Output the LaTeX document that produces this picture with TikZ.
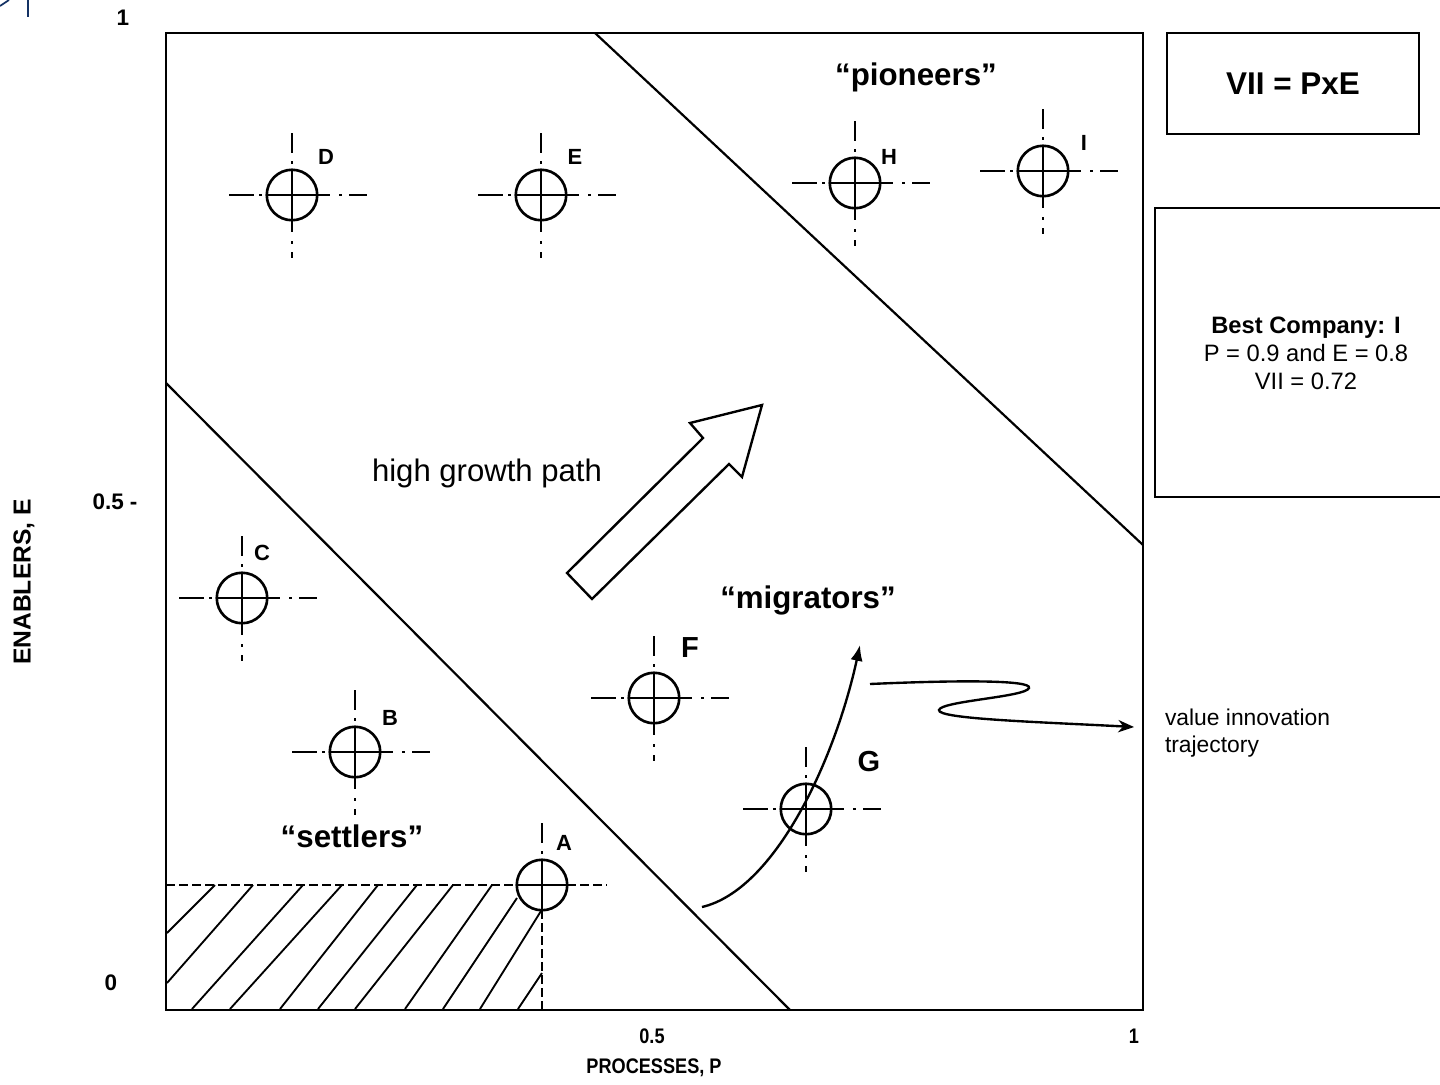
\documentclass[tikz,border=0pt]{standalone}
\usepackage{fontspec}
\setmainfont{Liberation Sans}
\usetikzlibrary{arrows.meta}
\newcommand{\fsz}[2]{\fontsize{#1pt}{#2pt}\selectfont}
\newcommand{\compcore}[3]{%
  \node[markcirc] (#1) at (#2,#3) {};
  \draw[crossln] (#1.west) -- (#1.east) (#1.north) -- (#1.south);}
\newcommand{\compticks}[2]{%
  \begin{scope}[shift={(#1,#2)}]
  \draw[tickln] (-63,0) -- (-38,0) (-33,0) -- (-30,0) (25,0) -- (38,0) (47,0) -- (50,0) (57,0) -- (75,0)
     (0,-62) -- (0,-42) (0,-34) -- (0,-31) (0,25) -- (0,37) (0,46) -- (0,49) (0,57) -- (0,63);
  \end{scope}}
\begin{document}
\begin{tikzpicture}[x=0.02cm,y=-0.02cm,
  every node/.style={inner sep=0pt, outer sep=0pt},
  frameline/.style={line width=1.25pt},
  markcirc/.style={circle, draw, line width=1.5pt, minimum size=1.01cm},
  crossln/.style={line width=1.6pt},
  tickln/.style={line width=1.4pt},
  hatchln/.style={line width=1.05pt},
  dashln/.style={line width=1.25pt, dash pattern=on 5pt off 2.4pt},
  arrowln/.style={line width=1.35pt},
  boxln/.style={draw, line width=1.35pt},
  lbl/.style={font=\fsz{12.5}{14}\bfseries},
  biglbl/.style={font=\fsz{16.5}{19}\bfseries},
  grouplbl/.style={font=\fsz{17.8}{21}\bfseries},
  axisl/.style={font=\fsz{12.8}{15}\bfseries},
  axisb/.style={font=\fsz{12}{14}\bfseries, xscale=0.86}]
\useasboundingbox (0,0) rectangle (1440,1085);

% stray blue mark at top-left
\draw[color={rgb,255:red,20;green,50;blue,100}, line width=1.6pt] (28,0) -- (28,17);
\draw[color={rgb,255:red,20;green,50;blue,100}, line width=1.0pt] (0,6) -- (9,0);

% frame and region boundaries
\draw[frameline] (166,33) rectangle (1143,1010);
\draw[frameline] (166,383) -- (790,1010);
\draw[frameline] (595,33) -- (1143,545);

% hatching
\draw[hatchln] (167,933) -- (215,885) (167,983) -- (253,885) (192,1009) -- (303,885)
  (230,1009) -- (342,885) (280,1009) -- (378,885) (318,1009) -- (417,885)
  (355,1009) -- (453,885) (405,1009) -- (492,885) (443,1009) -- (517,898)
  (480,1009) -- (541,911) (518,1009) -- (542,973);

% companies
\compcore{A}{542}{885}
\draw[tickln] (542,823) -- (542,843) (542,851) -- (542,854);
\coordinate (axl) at (166,885);
\coordinate (axr) at (607,885);
\coordinate (axb) at (542,1009);
\draw[dashln] (axl) -- (A.west) (A.east) -- (axr);
\draw[dashln] (A.south) -- (axb);
\compcore{B}{355}{752}\compticks{355}{752}
\compcore{C}{242}{598}\compticks{242}{598}
\compcore{D}{292}{195}\compticks{292}{195}
\compcore{E}{541}{195}\compticks{541}{195}
\compcore{F}{654}{698}\compticks{654}{698}
\compcore{G}{806}{809}\compticks{806}{809}
\compcore{H}{855}{183}\compticks{855}{183}
\compcore{I}{1043}{171}\compticks{1043}{171}

% company labels
\node[lbl] (lA) at (564,843) {A};
\node[lbl] (lB) at (390,718) {B};
\node[lbl] (lC) at (262,553) {C};
\node[lbl] (lD) at (326,157) {D};
\node[lbl] (lE) at (575,157) {E};
\node[biglbl] (lF) at (690,648) {F};
\node[biglbl] (lG) at (869,762) {G};
\node[lbl] (lH) at (889,157) {H};
\node[lbl] (lI) at (1084,143) {I};

% group labels
\node[grouplbl] (pioneers) at (916,77) {“pioneers”};
\node[grouplbl] (migrators) at (808,600) {“migrators”};
\node[grouplbl] (settlers) at (352,836) {“settlers”};
\node[font=\fsz{17.7}{21}] (hgp) at (487,473) {high growth path};

% block arrow
\draw[arrowln, fill=white] (567,573) -- (703,438) -- (690,423) -- (762,405) -- (742,477) -- (729,464) -- (592,599) -- cycle;

% trajectory arrows
\coordinate (tstart) at (702,907);
\coordinate (tend) at (860,645);
\draw[arrowln, -{Latex[length=9pt,width=7pt]}] (tstart) .. controls (775,890) and (835,760) .. (tend);
\coordinate (sq) at (870,684);
\coordinate (vit) at (1134,727);
\draw[arrowln, -{Stealth[length=9pt,width=7pt]}] (sq) .. controls (960,680) and (1032,680) .. (1029,688)
   .. controls (1026,697) and (941,701) .. (939,710) .. controls (937,719) and (1040,722) .. (vit);
\node[anchor=west, align=left, font=\fsz{13}{15.3}] (vitext) at (1165,733) {value innovation\\trajectory};

% boxes
\node[boxln, minimum width=5.04cm, minimum height=2.02cm, font=\fsz{17.9}{21}\bfseries] (vii) at (1293,83.5) {VII = PxE};
\node[boxln, minimum width=5.8cm, minimum height=5.78cm] (bestbox) at (1300,352.5) {};
\node[align=center, font=\fsz{13.5}{15.9}] (best) at (1306,353) {\textbf{Best Company: I}\\P = 0.9 and E = 0.8\\VII = 0.72};

% axes labels
\node[axisl] (y1) at (123,18) {1};
\node[axisl] (y05) at (115,502) {0.5 -};
\node[axisl] (y0) at (111,983) {0};
\node[axisb] (x05) at (652,1036) {0.5};
\node[axisb] (x1) at (1134,1036) {1};
\node[axisb] (xlab) at (654,1068) {PROCESSES, P};
\node[font=\fsz{14}{16}\bfseries, rotate=90] (ylab) at (24,582) {ENABLERS, E};
\end{tikzpicture}
\end{document}
